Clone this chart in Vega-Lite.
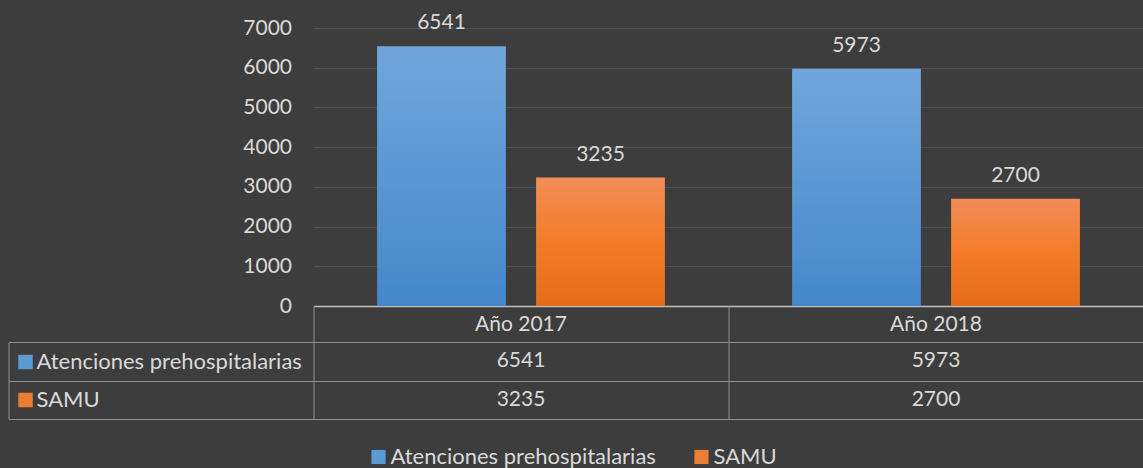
{
  "$schema": "https://vega.github.io/schema/vega-lite/v6.json",
  "background": "#3d3d3d",
  "padding": {"left": 7.5, "top": 12, "right": 0, "bottom": 0},
  "autosize": {"type": "pad"},
  "data": {"values": [
    {"year": "Año 2017", "series": "Atenciones prehospitalarias", "value": 6541},
    {"year": "Año 2017", "series": "SAMU", "value": 3235},
    {"year": "Año 2018", "series": "Atenciones prehospitalarias", "value": 5973},
    {"year": "Año 2018", "series": "SAMU", "value": 2700}
  ]},
  "config": {
    "font": "Lato",
    "view": {"stroke": null},
    "axis": {"labelFont": "Lato", "labelColor": "#d9d9d9", "labelFontSize": 21},
    "legend": {"labelFont": "Lato", "labelColor": "#d9d9d9", "labelFontSize": 22, "labelLimit": 500}
  },
  "spacing": 36,
  "bounds": "flush",
  "resolve": {"legend": {"color": "independent", "fill": "independent"}},
  "vconcat": [
    {
      "width": 830,
      "height": 278,
      "encoding": {
        "x": {"field": "year", "type": "nominal", "scale": {"paddingInner": 0, "paddingOuter": 0},
          "axis": {"title": null, "labelAngle": 0, "domain": true, "domainColor": "#bfbfbf", "domainWidth": 1.5, "ticks": false, "grid": false, "labelPadding": 18, "labelBaseline": "middle"}},
        "xOffset": {"field": "series", "type": "nominal", "scale": {"paddingInner": 0.19, "paddingOuter": 0.4}},
        "y": {"field": "value", "type": "quantitative", "scale": {"domain": [0, 7000], "nice": false},
          "axis": {"title": null, "format": "d", "values": [0, 1000, 2000, 3000, 4000, 5000, 6000, 7000], "domain": false, "ticks": false, "grid": true, "gridColor": "#ffffff", "gridOpacity": 0.1, "labelPadding": 22}}
      },
      "layer": [
        {
          "mark": {"type": "bar"},
          "encoding": {
            "color": {
              "condition": {"test": "datum.series === 'SAMU'", "value": {"gradient": "linear", "x1": 0, "y1": 0, "x2": 0, "y2": 1, "stops": [{"offset": 0, "color": "#f18d57"}, {"offset": 0.5, "color": "#f47c29"}, {"offset": 1, "color": "#e46c19"}]}},
              "value": {"gradient": "linear", "x1": 0, "y1": 0, "x2": 0, "y2": 1, "stops": [{"offset": 0, "color": "#71a6dc"}, {"offset": 1, "color": "#4488ca"}]}
            }
          }
        },
        {
          "mark": {"type": "text", "baseline": "alphabetic", "dy": -17, "fontSize": 21, "color": "#d9d9d9"},
          "encoding": {"text": {"field": "value", "type": "nominal"}}
        },
        {
          "mark": {"type": "square", "opacity": 0},
          "encoding": {
            "color": {"field": "series", "type": "nominal",
              "scale": {"domain": ["Atenciones prehospitalarias", "SAMU"], "range": ["#5b9bd5", "#ed7d31"]},
              "legend": {"orient": "none", "legendX": 54, "legendY": 418, "direction": "horizontal", "title": null, "symbolType": "square", "symbolSize": 200, "symbolStrokeWidth": 0, "columnPadding": 34, "labelOffset": 1, "padding": 0, "symbolOpacity": 1, "labelLimit": 500}}
          }
        }
      ]
    },
    {
      "width": 830,
      "height": 77,
      "encoding": {
        "x": {"field": "year", "type": "nominal", "scale": {"paddingInner": 0, "paddingOuter": 0},
          "axis": {"orient": "top", "title": null, "labels": false, "domain": false, "ticks": true, "tickBand": "extent", "tickSize": 36, "tickColor": "#8f8f8f", "grid": true, "gridColor": "#8f8f8f", "gridOpacity": 1}},
        "y": {"field": "series", "type": "nominal", "scale": {"domain": ["Atenciones prehospitalarias", "SAMU"], "paddingInner": 0, "paddingOuter": 0},
          "axis": {"orient": "left", "title": null, "offset": 305, "labels": false, "domain": true, "domainColor": "#8f8f8f", "ticks": true, "tickBand": "extent", "tickSize": -305, "tickColor": "#8f8f8f", "grid": true, "gridColor": "#8f8f8f", "gridOpacity": 1}}
      },
      "layer": [
        {
          "mark": {"type": "text", "fontSize": 21, "color": "#d9d9d9", "baseline": "middle"},
          "encoding": {"text": {"field": "value", "type": "nominal"}}
        },
        {
          "mark": {"type": "square", "opacity": 0},
          "encoding": {
            "fill": {"field": "series", "type": "nominal",
              "scale": {"domain": ["Atenciones prehospitalarias", "SAMU"], "range": ["#5b9bd5", "#ed7d31"]},
              "legend": {"orient": "none", "legendX": -299, "legendY": 9, "direction": "vertical", "title": null, "symbolType": "square", "symbolSize": 210, "symbolStrokeWidth": 0, "rowPadding": 16, "labelOffset": 0, "padding": 0, "symbolOpacity": 1, "labelLimit": 500}}
          }
        }
      ]
    }
  ]
}
